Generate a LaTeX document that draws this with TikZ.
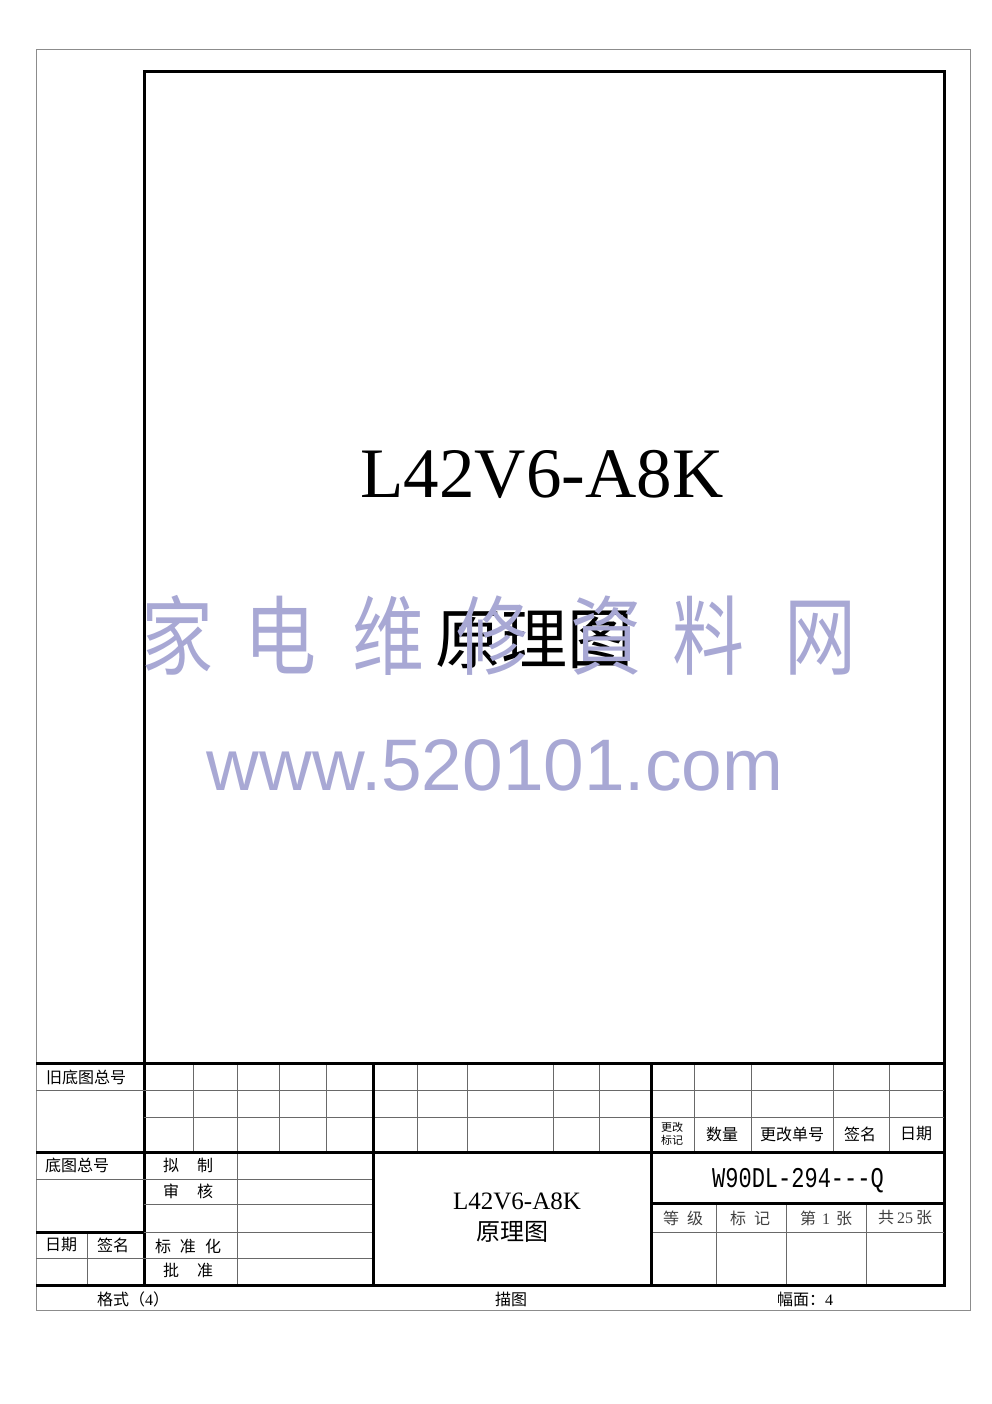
\documentclass[tikz,border=0pt]{standalone}
\usepackage{fontspec}
\usepackage{graphicx}
\setmainfont{Liberation Serif}
\newfontfamily\cjk{Noto Sans CJK SC}
\newfontfamily\sansurl{Liberation Sans}
\newfontfamily\monocode{Liberation Mono}
\definecolor{wmark}{RGB}{168,168,212}
\definecolor{gridgray}{RGB}{105,105,105}
\tikzset{
  frame/.style={line width=3pt},
  grid/.style={line width=0.9pt,draw=gridgray},
  cell/.style={font=\cjk\fontsize{16}{16}\selectfont,inner sep=0pt},
  small/.style={font=\cjk\fontsize{11}{13}\selectfont,inner sep=0pt,align=center},
  wm/.style={text=wmark,font=\cjk\fontsize{72}{72}\selectfont,inner sep=0pt,anchor=base},
}
\begin{document}
\begin{tikzpicture}[x=1pt,y=-1pt]
\useasboundingbox (0,0) rectangle (992,1404);
% outer and inner frame
\draw[line width=1pt,draw=black!45] (36,50) rectangle (970,1310);
\draw[frame] (144,72) rectangle (944,1285);
% thin grid of the title block
\draw[grid] (36,1090) -- (944,1090);
\draw[grid] (144,1117) -- (944,1117);
\foreach \x in {193,237,279,326,417,467,553,599,694,751,833,889}
  \draw[grid] (\x,1063) -- (\x,1152);
\draw[grid] (36,1179) -- (373,1179);
\draw[grid] (144,1204) -- (373,1204);
\draw[grid] (144,1232) -- (373,1232);
\draw[grid] (36,1258) -- (373,1258);
\draw[grid] (87,1232) -- (87,1285);
\draw[grid] (237,1152) -- (237,1285);
\draw[grid] (651,1232) -- (944,1232);
\foreach \x in {716,786,866}
  \draw[grid] (\x,1203) -- (\x,1285);
% thick lines
\foreach \y in {1063,1152,1285}
  \draw[frame] (36,\y) -- (944,\y);
\draw[frame] (36,1232) -- (144,1232);
\draw[frame] (651,1203) -- (944,1203);
\draw[frame] (373,1063) -- (373,1285);
\draw[frame] (651,1063) -- (651,1285);

% big title
\node[font=\fontsize{71}{71}\selectfont,inner sep=0pt,anchor=base] (model) at (542,497) {L42V6-A8K};
\node[font=\cjk\fontsize{66}{66}\selectfont,inner sep=0pt,anchor=base] (kind) at (534,663) {原理图};

% title block texts
\node[cell,anchor=west] (oldno) at (46,1077) {旧底图总号};
\node[cell,anchor=west] (baseno) at (45,1165) {底图总号};
\node[cell] (date) at (61,1245) {日期};
\node[cell] (sign) at (113,1245) {签名};
\node[cell] (draft) at (188,1165) {拟\hspace{18pt}制};
\node[cell] (check) at (188,1191) {审\hspace{18pt}核};
\node[cell] (std) at (188,1246) {标\hspace{9pt}准\hspace{9pt}化};
\node[cell] (appr) at (188,1270) {批\hspace{18pt}准};
\node[small] (mark) at (672,1134) {更改\\标记};
\node[cell] (qty) at (722,1134) {数量};
\node[cell] (chno) at (792,1134) {更改单号};
\node[cell] (sign2) at (860,1134) {签名};
\node[cell] (date2) at (916,1134) {日期};
\node[font=\fontsize{25}{25}\selectfont,inner sep=0pt,anchor=base] (model2) at (517,1209) {L42V6-A8K};
\node[font=\cjk\fontsize{24}{24}\selectfont,inner sep=0pt] (kind2) at (512,1232) {原理图};
\node[font=\monocode\fontsize{22}{22}\selectfont,inner sep=0pt,anchor=base] (code) at (798,1187) {\scalebox{1}[1.3]{W90DL-294---Q}};
\node[cell,text=black!75] (grade) at (683,1218) {等\hspace{8pt}级};
\node[cell,text=black!75] (tag) at (750,1218) {标\hspace{8pt}记};
\node[cell,text=black!75] (sheet) at (826,1218) {第\hspace{6pt}{\rmfamily 1}\hspace{6pt}张};
\node[cell,text=black!75] (total) at (905,1218) {共\hspace{3pt}{\rmfamily 25}\hspace{3pt}张};
\node[cell] (fmt) at (133,1299) {格式（{\rmfamily 4}）};
\node[cell] (trace) at (511,1299) {描图};
\node[cell] (size) at (805,1299) {幅面：{\rmfamily 4}};

% watermark
\foreach \c/\x in {家/177,电/280,维/388,修/492,資/606,料/708,网/820}
  \node[wm] (wm\x) at (\x,668) {\scalebox{1}[1.2]{\c}};
\node[text=wmark,font=\sansurl\fontsize{73}{73}\selectfont,inner sep=0pt,anchor=base] (site) at (495,790) {www.520101.com};
\end{tikzpicture}
\end{document}
